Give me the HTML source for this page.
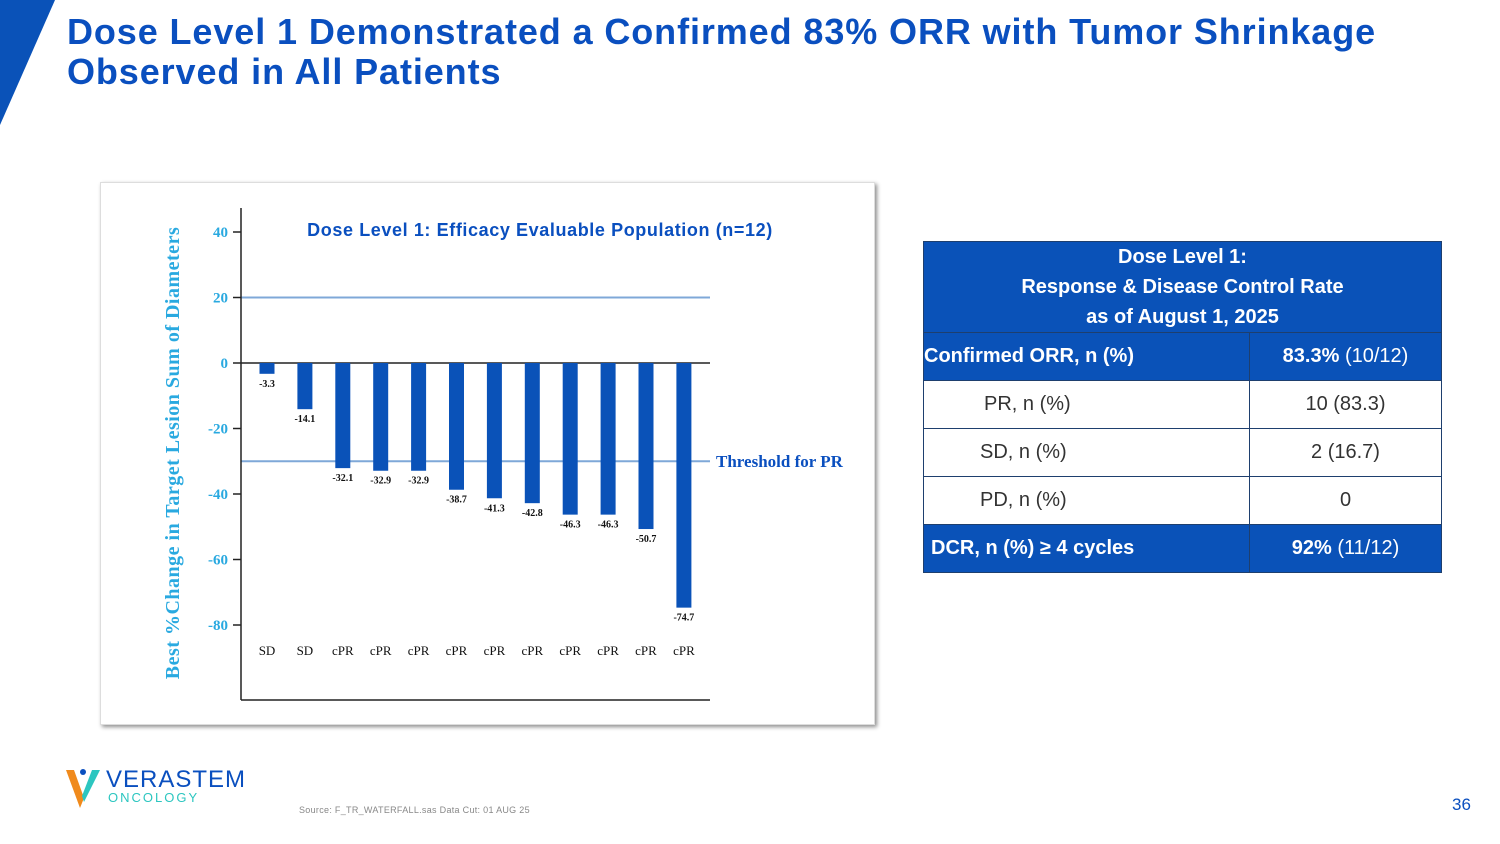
<!DOCTYPE html>
<html><head><meta charset="utf-8">
<style>
body{margin:0;width:1500px;height:844px;background:#fff;position:relative;overflow:hidden;font-family:"Liberation Sans","DejaVu Sans",sans-serif}
.title{position:absolute;left:67px;top:12px;font-size:36px;font-weight:bold;color:#0a4fbf;line-height:40px;letter-spacing:0.9px}
.panel{position:absolute;left:100px;top:182px;width:775px;height:543px;background:#fff;box-shadow:2px 2px 4px rgba(0,0,0,.45);border:1px solid #ddd;box-sizing:border-box}
table{position:absolute;left:923px;top:241px;width:519px;border-collapse:collapse;font-size:20px}
td{border:1px solid #1e3f6e;height:47px;text-align:center;padding:0}
.hd td{background:#0a52b8;color:#fff;font-weight:bold;height:88px;line-height:30px;font-size:20px}
.bl td{background:#0a52b8;color:#fff}
.wh td{color:#333}
.wh td.lab{text-align:left;padding-left:60px}
</style></head><body>
<svg style="position:absolute;left:0;top:0" width="60" height="130"><polygon points="0,0 55,0 0,125" fill="#0a52b8"/></svg>
<div class="title">Dose Level 1 Demonstrated a Confirmed 83% ORR with Tumor Shrinkage<br>Observed in All Patients</div>
<div class="panel"></div>
<svg id="chart" style="position:absolute;left:0;top:0" width="900" height="740"></svg>
<table>
<tr class="hd"><td colspan="2">Dose Level 1:<br>Response &amp; Disease Control Rate<br>as of August 1, 2025</td></tr>
<tr class="bl"><td style="width:325px;text-align:left;font-weight:bold">Confirmed ORR, n (%)</td><td><b>83.3%</b> (10/12)</td></tr>
<tr class="wh"><td class="lab">PR, n (%)</td><td>10 (83.3)</td></tr>
<tr class="wh"><td class="lab" style="padding-left:56px">SD, n (%)</td><td>2 (16.7)</td></tr>
<tr class="wh"><td class="lab" style="padding-left:56px">PD, n (%)</td><td>0</td></tr>
<tr class="bl"><td style="font-weight:bold;text-align:left;padding-left:7px">DCR, n (%) ≥ 4 cycles</td><td><b>92%</b> (11/12)</td></tr>
</table>
<div style="position:absolute;left:66px;top:766px">
<svg width="36" height="42" style="position:absolute;left:0;top:0"><polygon points="0,4 8,4 18,32 14,42" fill="#f08a1c"/><polygon points="34,4 26,4 16,30 18,36" fill="#2cc6c0"/><circle cx="17" cy="6" r="3" fill="#0a4fbf"/></svg>
<div style="position:absolute;left:40px;top:0;font-size:24px;color:#0a4fbf;letter-spacing:1px">VERASTEM</div>
<div style="position:absolute;left:42px;top:24px;font-size:13px;color:#2cc6c0;letter-spacing:2px">ONCOLOGY</div>
</div>
<div style="position:absolute;left:299px;top:805px;font-size:9px;color:#888;letter-spacing:0.3px">Source: F_TR_WATERFALL.sas Data Cut: 01 AUG 25</div>
<div style="position:absolute;left:1452px;top:795px;font-size:17px;color:#0a4fbf">36</div>
<script>
const categories=["SD","SD","cPR","cPR","cPR","cPR","cPR","cPR","cPR","cPR","cPR","cPR"];
const values=[-3.3,-14.1,-32.1,-32.9,-32.9,-38.7,-41.3,-42.8,-46.3,-46.3,-50.7,-74.7];
const yTicks=[40,20,0,-20,-40,-60,-80];
const refLines=[20,-30];
const NS="http://www.w3.org/2000/svg";
const svg=document.getElementById('chart');
function y(v){return 363-v*3.275;}
function x(i){return 267+i*37.9;}
function mk(t,a,txt){const e=document.createElementNS(NS,t);for(const k in a)e.setAttribute(k,a[k]);if(txt!==undefined)e.textContent=txt;svg.appendChild(e);return e;}
refLines.forEach(v=>{const l=mk('line',{x1:241,x2:710,y1:y(v),y2:y(v),stroke:'#7fa8d8','stroke-width':2});

});
let a=mk('line',{x1:241,x2:241,y1:208,y2:700,stroke:'#222','stroke-width':1.5});


a=mk('line',{x1:241,x2:710,y1:700,y2:700,stroke:'#222','stroke-width':1.5});


a=mk('line',{x1:241,x2:710,y1:y(0),y2:y(0),stroke:'#222','stroke-width':1.5});


yTicks.forEach(v=>{mk('line',{x1:233,x2:241,y1:y(v),y2:y(v),stroke:'#222','stroke-width':1.5});
const t=mk('text',{x:228,y:y(v)+5,'text-anchor':'end','font-family':'Liberation Serif, serif','font-size':15,'font-weight':'bold',fill:'#29a9e0'},String(v));

});
values.forEach((v,i)=>{const r=mk('rect',{x:x(i)-7.5,y:y(0),width:15,height:y(v)-y(0),fill:'#0a52b8'});


const t=mk('text',{x:x(i),y:y(v)+13,'text-anchor':'middle','font-family':'Liberation Serif, serif','font-size':10,'font-weight':'bold',fill:'#111'},v.toFixed(1));


const c=mk('text',{x:x(i),y:655,'text-anchor':'middle','font-family':'Liberation Serif, serif','font-size':13,fill:'#111'},categories[i]);

});
let t=mk('text',{x:540,y:236,'text-anchor':'middle','font-size':18,'font-weight':'bold','letter-spacing':0.6,fill:'#0a4fbf'},'Dose Level 1: Efficacy Evaluable Population (n=12)');


t=mk('text',{x:716,y:467,'font-family':'Liberation Serif, serif','font-size':17,'font-weight':'bold',fill:'#0a4fbf'},'Threshold for PR');


t=mk('text',{x:0,y:0,'text-anchor':'middle','font-family':'Liberation Serif, serif','font-size':20,'font-weight':'bold','letter-spacing':0.5,fill:'#29a9e0',transform:'translate(179,453) rotate(-90)'},'Best %Change in Target Lesion Sum of Diameters');


</script>
</body></html>
